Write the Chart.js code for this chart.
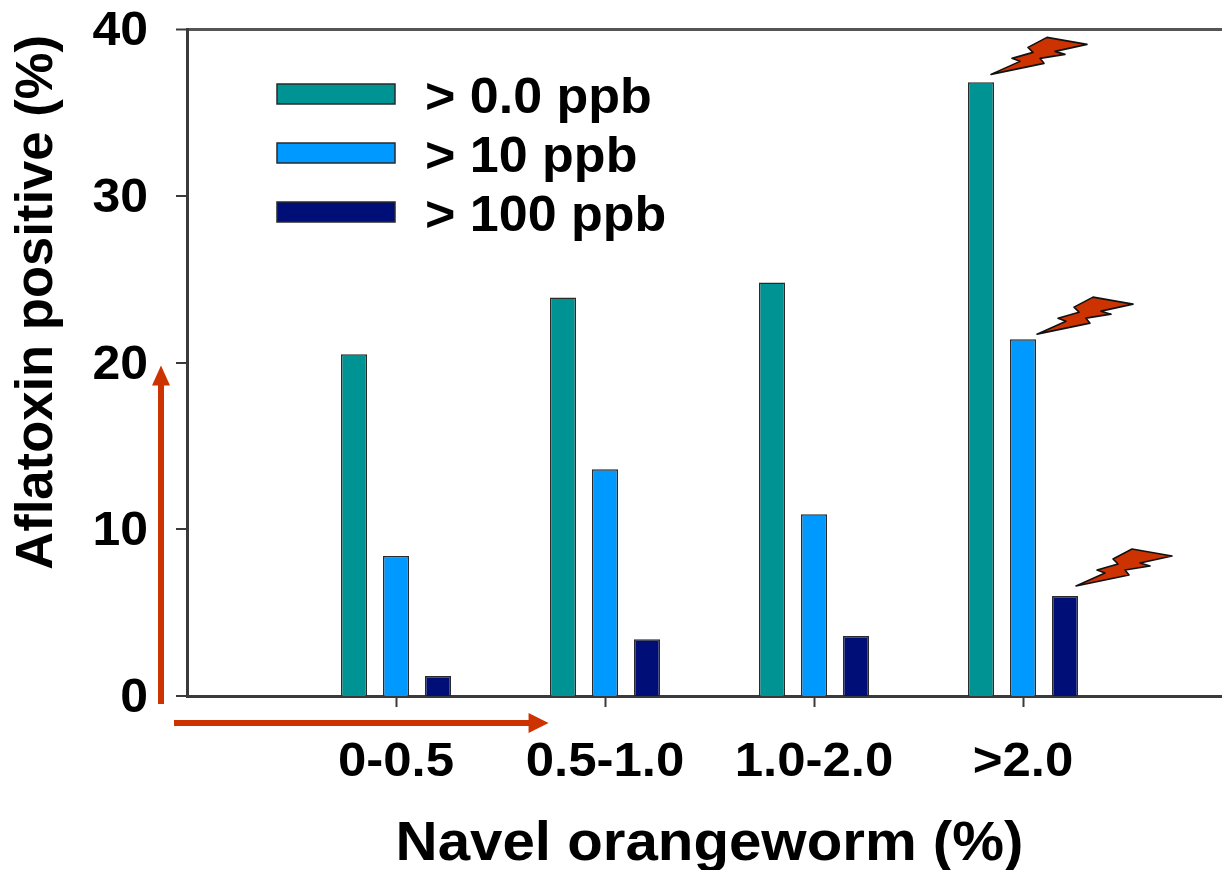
<!DOCTYPE html>
<html><head><meta charset="utf-8">
<style>html,body{margin:0;padding:0;background:#fff;overflow:hidden;width:1222px;height:870px}
#wrap{position:absolute;left:0;top:0;width:1232px;height:880px}</style>
<script src="https://cdn.jsdelivr.net/npm/chart.js@4"></script></head>
<body><div id="wrap"><canvas id="c" width="1232" height="880"></canvas></div>
<script>
const categories = ['', '0-0.5', '0.5-1.0', '1.0-2.0', '>2.0', ''];
const seriesNames = ['> 0.0 ppb', '> 10 ppb', '> 100 ppb'];
const above0 = [null, 20.5, 23.9, 24.8, 36.8, null];
const above10 = [null, 8.4, 13.6, 10.9, 21.4, null];
const above100 = [null, 1.2, 3.4, 3.6, 6.0, null];
const seriesColors = ['#009393', '#0099ff', '#000f78'];
const yTicks = [0, 10, 20, 30, 40];
const FF = '"Liberation Sans", Arial, sans-serif';
const ORANGE = '#cc3300', AXIS = '#3a3a3a';
const TEXT_STRETCH = 1.04;

const canvas = document.getElementById('c');
const rawCtx = canvas.getContext('2d');
const origFill = rawCtx.fillText.bind(rawCtx);
// Upright text in the reference is slightly widened; the rotated title is nudged along its run.
rawCtx.fillText = function(text, x, y) {
  const m = rawCtx.getTransform();
  if (Math.abs(m.b) > 1e-6) return origFill(text, x - 6, y);
  const isLegend = seriesNames.includes(text);
  const isYTick = yTicks.map(String).includes(String(text));
  rawCtx.save();
  rawCtx.translate(x + (isLegend ? 5 : 0), y + (isLegend ? 5 : isYTick ? 3 : 0));
  rawCtx.scale(TEXT_STRETCH, 1);
  origFill(text, 0, 0);
  rawCtx.restore();
};

function bolt(ctx, tx, ty) {
  const pts = [[0,0],[29,-13],[21,-16],[42,-22],[37,-27],[56,-37],[96,-30],[64,-23],[74,-20],[49,-16],[53,-11]];
  ctx.save();
  ctx.beginPath();
  pts.forEach((p,i)=> i ? ctx.lineTo(tx+p[0],ty+p[1]) : ctx.moveTo(tx+p[0],ty+p[1]));
  ctx.closePath();
  ctx.fillStyle = ORANGE; ctx.strokeStyle = '#111'; ctx.lineWidth = 1.6; ctx.lineJoin='round';
  ctx.fill(); ctx.stroke();
  ctx.restore();
}
const decorations = {
  id: 'decorations',
  beforeDraw(chart) {
    chart.legend.left = 268;
    chart.legend.top = 60;
  },
  afterDraw(chart) {
    const ctx = chart.ctx, y = chart.scales.y, x = chart.scales.x;
    [[0,10,-8],[1,14,-5],[2,11,-10]].forEach(([d,dx,dy]) => {
      const el = chart.getDatasetMeta(d).data[4];
      bolt(ctx, el.x + dx, el.y + dy);
    });
    ctx.save();
    ctx.fillStyle = ORANGE;
    const ax = chart.chartArea.left - 26, top = y.getPixelForValue(20) + 3, bot = y.getPixelForValue(0) + 8;
    ctx.fillRect(ax-3, top+18, 6, bot-top-18);
    ctx.beginPath(); ctx.moveTo(ax, top); ctx.lineTo(ax+9, top+20); ctx.lineTo(ax-9, top+20); ctx.closePath(); ctx.fill();
    const ay = y.getPixelForValue(0) + 27, l = chart.chartArea.left - 13, r = x.getPixelForValue(1.73);
    ctx.fillRect(l, ay-3, r-l-16, 6);
    ctx.beginPath(); ctx.moveTo(r, ay); ctx.lineTo(r-20, ay-10); ctx.lineTo(r-20, ay+10); ctx.closePath(); ctx.fill();
    ctx.restore();
  }
};
const ds = (i, data) => ({label: seriesNames[i], data, backgroundColor: seriesColors[i], borderColor: '#2a2a2a', borderWidth: 1.5,
  categoryPercentage: 0.603, barPercentage: 0.62});
new Chart(canvas, {
  type: 'bar',
  data: {labels: categories, datasets: [ds(0, above0), ds(1, above10), ds(2, above100)]},
  plugins: [decorations],
  options: {
    responsive: false, animation: false, devicePixelRatio: 1,
    layout: {padding: {top: 29, left: 0, right: 0, bottom: 0}},
    plugins: {
      tooltip: {enabled: false},
      legend: {position: 'chartArea', align: 'start',
        labels: {boxWidth: 118, boxHeight: 20, padding: 9, color: '#000',
          font: {family: FF, weight: 'bold', size: 50}}}
    },
    scales: {
      x: {
        offset: false,
        afterFit(s){ s.height = 184; s.paddingLeft = 0; s.paddingRight = 0; },
        border: {color: AXIS, width: 3},
        grid: {offset: false, drawOnChartArea: false, tickLength: 11, tickWidth: 2, tickColor: c => categories[c.index] ? AXIS : 'transparent'},
        ticks: {autoSkip: false, maxRotation: 0, minRotation: 0, padding: 26, color: '#000',
          font: {family: FF, weight: 'bold', size: 49}},
        title: {display: true, text: 'Navel orangeworm (%)', color: '#000',
          font: {family: FF, weight: 'bold', size: 56}, padding: {top: 0, bottom: 2}}
      },
      y: {
        min: 0, max: 40,
        afterFit(s){ s.width = 187; s.paddingTop = 0; s.paddingBottom = 0; },
        afterBuildTicks(s){ s.ticks = yTicks.map(value => ({value})); },
        border: {color: AXIS, width: 3},
        grid: {drawOnChartArea: true, lineWidth: c => c.tick && c.tick.value === 40 ? 3 : 0, color: '#555', tickLength: 11, tickWidth: 2, tickColor: AXIS},
        ticks: {padding: 28, color: '#000', font: {family: FF, weight: 'bold', size: 48}},
        title: {display: true, text: 'Aflatoxin positive (%)', align: 'end', color: '#000',
          font: {family: FF, weight: 'bold', size: 52.6}, padding: {top: 6, bottom: 0}}
      }
    }
  }
});
</script></body></html>
